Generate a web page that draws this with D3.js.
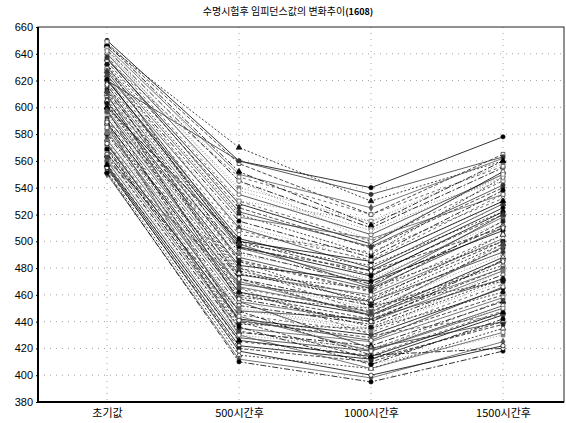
<!DOCTYPE html>
<html>
<head>
<meta charset="utf-8">
<script src="https://cdn.jsdelivr.net/npm/d3@7"></script>
<style>
  body { margin: 0; background: #fff; }
  text { font-family: "Liberation Sans", "Noto Sans CJK KR", sans-serif; }
</style>
</head>
<body>
<div id="chart"></div>
<script>
// categories on the x axis
var categories = ["초기값", "500시간후", "1000시간후", "1500시간후"];
var yTicks = [380, 400, 420, 440, 460, 480, 500, 520, 540, 560, 580, 600, 620, 640, 660];

// one value per sample
var initial = [650, 648, 646, 645, 643, 641, 640, 638, 636, 634, 632, 630, 628, 626, 624, 622, 620, 618, 616, 614,
               612, 610, 608, 606, 604, 602, 600, 598, 596, 594, 592, 590, 588, 586, 584, 582, 580, 578, 576, 574,
               572, 570, 568, 566, 564, 562, 560, 558, 556, 554, 552, 550, 551, 645, 620, 635, 600, 590, 580, 560,
               565, 575, 610, 625, 555, 598, 632, 588, 647, 642, 637, 629, 621, 613, 605, 597, 589, 581, 573, 563,
               557, 617, 603, 585, 569, 649, 627, 611];
var after500 = [560, 558, 570, 550, 545, 540, 535, 530, 528, 525, 520, 518, 515, 512, 510, 505, 502, 500, 498, 495,
                492, 490, 488, 485, 482, 480, 478, 475, 472, 470, 468, 465, 462, 460, 458, 455, 452, 450, 448, 445,
                442, 440, 438, 435, 432, 430, 428, 425, 422, 420, 415, 412, 410, 530, 560, 548, 500, 495, 475, 470,
                448, 460, 455, 465, 418, 440, 485, 430, 552, 538, 522, 508, 496, 486, 476, 466, 457, 449, 441, 433,
                426, 472, 462, 444, 436, 545, 498, 480];
var after1000 = [540, 520, 530, 525, 510, 515, 505, 500, 498, 495, 490, 502, 488, 485, 480, 492, 478, 475, 482, 470,
                 468, 472, 465, 462, 470, 458, 455, 460, 452, 450, 455, 448, 445, 442, 450, 440, 438, 435, 442, 432,
                 430, 428, 435, 425, 422, 420, 418, 415, 412, 410, 405, 398, 395, 515, 535, 520, 485, 478, 465, 445,
                 415, 408, 420, 430, 400, 412, 452, 405, 512, 508, 496, 486, 474, 463, 456, 447, 440, 433, 426, 419,
                 414, 444, 436, 418, 408, 500, 466, 446];
var after1500 = [578, 565, 560, 562, 555, 558, 550, 545, 552, 540, 548, 535, 538, 530, 528, 532, 525, 520, 522, 518,
                 512, 515, 510, 505, 508, 500, 498, 502, 495, 490, 492, 485, 488, 480, 482, 478, 475, 470, 472, 468,
                 465, 460, 462, 458, 455, 450, 452, 448, 445, 440, 435, 425, 418, 545, 563, 556, 530, 510, 500, 480,
                 420, 430, 440, 445, 422, 438, 470, 432, 560, 548, 542, 535, 522, 515, 505, 496, 486, 478, 466, 456,
                 447, 485, 472, 450, 442, 550, 520, 498];

var series = initial.map(function(v, i) {
    return [v, after500[i], after1000[i], after1500[i]];
});

var margin = { top: 27, right: 2, bottom: 21, left: 38 },
    width = 566 - margin.left - margin.right,
    height = 423 - margin.top - margin.bottom;

var svg = d3.select("#chart")
    .append("svg")
    .attr("width", 566)
    .attr("height", 423);

// title
var title = svg.append("text")
    .attr("x", 288)
    .attr("y", 15)
    .attr("text-anchor", "middle")
    .style("font-size", "10px")
    .style("font-family", "'Noto Sans CJK KR', sans-serif");
title.append("tspan").text("수명시험후 임피던스값의 변화추이");
title.append("tspan").style("font-weight", "bold").style("font-size", "9px").text("(1608)");

var g = svg.append("g")
    .attr("transform", "translate(" + margin.left + "," + margin.top + ")");

var x = d3.scalePoint()
    .domain(categories)
    .range([69, 465]);

var y = d3.scaleLinear()
    .domain([380, 660])
    .range([height, 0]);

// dotted grid
g.selectAll(".hgrid")
    .data(yTicks.slice(1, -1))
    .enter().append("line")
    .attr("class", "hgrid")
    .attr("x1", 0).attr("x2", width)
    .attr("y1", function(d) { return y(d); })
    .attr("y2", function(d) { return y(d); })
    .attr("stroke", "#888")
    .attr("stroke-width", 0.8)
    .attr("stroke-dasharray", "1,5");

g.selectAll(".vgrid")
    .data(categories)
    .enter().append("line")
    .attr("class", "vgrid")
    .attr("x1", function(d) { return x(d); })
    .attr("x2", function(d) { return x(d); })
    .attr("y1", 0).attr("y2", height)
    .attr("stroke", "#888")
    .attr("stroke-width", 0.8)
    .attr("stroke-dasharray", "1,5");

// styles cycle through the samples
var greys = ["#000", "#222", "#111", "#555", "#000", "#777", "#333", "#444"];
var dashes = [null, "4,2", "2,2", null, "6,2,2,2", "1,2", null, "3,3"];
var symbols = [d3.symbolCircle, d3.symbolSquare, d3.symbolTriangle, d3.symbolDiamond, d3.symbolCircle, d3.symbolSquare];
var filled = [true, false, true, true, false, true, false];

var line = d3.line()
    .x(function(d, i) { return x(categories[i]); })
    .y(function(d) { return y(d); });

var lines = g.selectAll(".series")
    .data(series)
    .enter().append("g")
    .attr("class", "series");

lines.append("path")
    .attr("d", function(d) { return line(d); })
    .attr("fill", "none")
    .attr("stroke", function(d, i) { return greys[i % greys.length]; })
    .attr("stroke-width", 0.8)
    .attr("stroke-dasharray", function(d, i) { return dashes[i % dashes.length]; });

lines.each(function(d, i) {
    var col = greys[i % greys.length];
    var sym = d3.symbol().type(symbols[i % symbols.length]).size(14);
    var fill = filled[i % filled.length];
    d3.select(this).selectAll("path.mark")
        .data(d)
        .enter().append("path")
        .attr("class", "mark")
        .attr("transform", function(v, j) { return "translate(" + x(categories[j]) + "," + y(v) + ")"; })
        .attr("d", sym)
        .attr("fill", fill ? col : "#fff")
        .attr("stroke", col)
        .attr("stroke-width", 0.7);
});

// frame
g.append("rect")
    .attr("width", width)
    .attr("height", height)
    .attr("fill", "none")
    .attr("stroke", "#222")
    .attr("stroke-width", 1);

g.append("line")
    .attr("x1", 0).attr("x2", 0).attr("y1", 0).attr("y2", height)
    .attr("stroke", "#000").attr("stroke-width", 2);
g.append("line")
    .attr("x1", 0).attr("x2", width).attr("y1", height).attr("y2", height)
    .attr("stroke", "#000").attr("stroke-width", 2);

// axes
var yAxis = d3.axisLeft(y).tickValues(yTicks).tickSize(2).tickPadding(3);
var xAxis = d3.axisBottom(x).tickSize(0).tickPadding(7);

var ya = g.append("g").call(yAxis);
ya.select(".domain").remove();
ya.selectAll("text").style("font-size", "11px").style("fill", "#000");

var xa = g.append("g")
    .attr("transform", "translate(0," + height + ")")
    .call(xAxis);
xa.select(".domain").remove();
xa.selectAll("text")
    .style("font-size", "11px")
    .style("fill", "#000")
    .style("font-family", "'Noto Sans CJK KR', sans-serif");
</script>
</body>
</html>
